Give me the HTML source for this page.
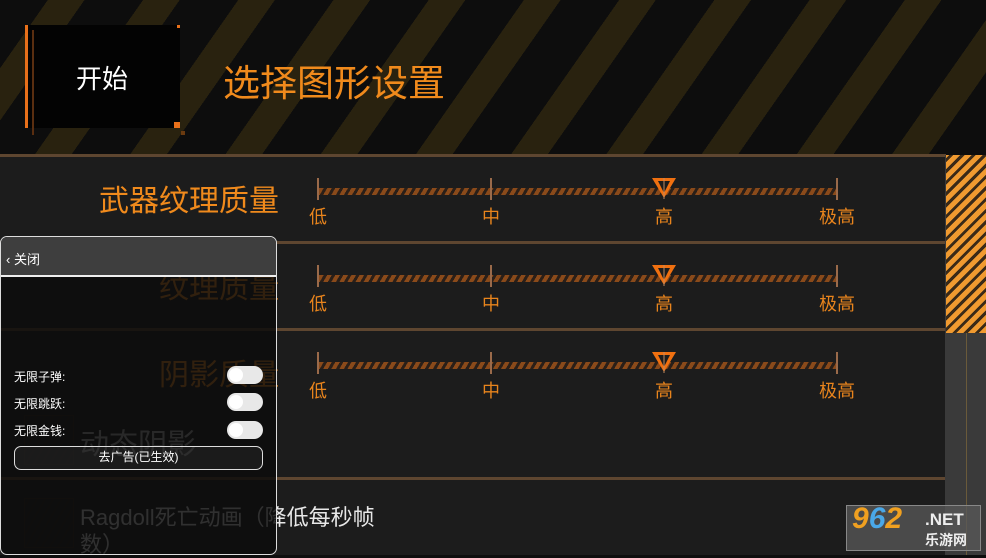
<!DOCTYPE html>
<html><head><meta charset="utf-8"><style>
*{margin:0;padding:0;box-sizing:border-box}
body{width:986px;height:555px;overflow:hidden;background:#0e0e0e;font-family:"Liberation Sans","Noto Sans CJK SC",sans-serif;position:relative}
.a{position:absolute}
.top{left:0;top:0;width:986px;height:156px;background:repeating-linear-gradient(-55deg,#0d0d0d 0 48px,#29220f 48px 78px)}
.panel{left:0;top:155px;width:946px;height:400px;background:#1c1c1c}
.sep{left:0;width:946px;height:3px;background:#5e4630}
.title{color:#f08a1c;font-size:30px;text-align:right;width:279px;left:0}
.lab{color:#e8841c;font-size:18px;width:50px;text-align:center}
.track{left:318px;width:519px;height:7px;background:repeating-linear-gradient(-60deg,#8a4a1a 0 4px,#2a1f18 4px 7px)}
.tick{width:2px;height:22px;background:#9a6a4a}
.tg{left:227px;width:36px;height:18px;border-radius:9px;background:#e8e8e8}
.tg:after{content:"";position:absolute;left:2px;top:2px;width:14px;height:14px;border-radius:7px;background:#fff}
.ol{color:#fff;font-size:12px;left:14px}
</style></head><body>
<div class="a top"></div>
<div class="a" style="left:27px;top:25px;width:153px;height:103px;background:#030303"></div>
<div class="a" style="left:25px;top:25px;width:3px;height:103px;background:#e8701a"></div>
<div class="a" style="left:32px;top:30px;width:2px;height:105px;background:#5a2e10"></div>
<div class="a" style="left:174px;top:122px;width:6px;height:6px;background:#e8701a"></div>
<div class="a" style="left:181px;top:131px;width:4px;height:4px;background:#6a3a10"></div>
<div class="a" style="left:177px;top:25px;width:3px;height:3px;background:#e8701a"></div>
<div class="a" style="left:76px;top:59px;color:#fff;font-size:26px">开始</div>
<div class="a" style="left:223px;top:53px;color:#f08a1c;font-size:37px">选择图形设置</div>

<div class="a panel"></div>
<div class="a sep" style="top:154px"></div>
<div class="a sep" style="top:241px"></div>
<div class="a sep" style="top:328px"></div>
<div class="a sep" style="top:477px"></div>
<div class="a" style="left:945px;top:155px;width:41px;height:400px;background:#3a3a3a"></div>
<div class="a" style="left:966px;top:333px;width:1px;height:222px;background:#6a5a3a"></div>
<div class="a" style="left:946px;top:155px;width:40px;height:178px;background:repeating-linear-gradient(-45deg,#f09a30 0 5px,#3a2a18 5px 8px)"></div>

<div class="a title" style="top:176px">武器纹理质量</div>
<div class="a title" style="top:263px">纹理质量</div>
<div class="a title" style="top:350px">阴影质量</div>

<div class="a track" style="top:188px"></div><div class="a track" style="top:275px"></div><div class="a track" style="top:362px"></div>
<div class="a tick" style="left:317px;top:178px"></div><div class="a tick" style="left:490px;top:178px"></div><div class="a tick" style="left:836px;top:178px"></div>
<div class="a tick" style="left:317px;top:265px"></div><div class="a tick" style="left:490px;top:265px"></div><div class="a tick" style="left:836px;top:265px"></div>
<div class="a tick" style="left:317px;top:352px"></div><div class="a tick" style="left:490px;top:352px"></div><div class="a tick" style="left:836px;top:352px"></div>
<svg class="a" style="left:650px;top:177px" width="28" height="24"><polygon points="2,1 26,1 14,21" fill="#f07010"/><polygon points="8,4 20,4 14,16" fill="#1c1c1c"/><line x1="14" y1="1" x2="14" y2="22" stroke="#c08a60" stroke-width="1"/></svg>
<svg class="a" style="left:650px;top:264px" width="28" height="24"><polygon points="2,1 26,1 14,21" fill="#f07010"/><polygon points="8,4 20,4 14,16" fill="#1c1c1c"/><line x1="14" y1="1" x2="14" y2="22" stroke="#c08a60" stroke-width="1"/></svg>
<svg class="a" style="left:650px;top:351px" width="28" height="24"><polygon points="2,1 26,1 14,21" fill="#f07010"/><polygon points="8,4 20,4 14,16" fill="#1c1c1c"/><line x1="14" y1="1" x2="14" y2="22" stroke="#c08a60" stroke-width="1"/></svg>
<div class="a lab" style="left:293px;top:203px">低</div><div class="a lab" style="left:466px;top:203px">中</div><div class="a lab" style="left:639px;top:203px">高</div><div class="a lab" style="left:812px;top:203px">极高</div>
<div class="a lab" style="left:293px;top:290px">低</div><div class="a lab" style="left:466px;top:290px">中</div><div class="a lab" style="left:639px;top:290px">高</div><div class="a lab" style="left:812px;top:290px">极高</div>
<div class="a lab" style="left:293px;top:377px">低</div><div class="a lab" style="left:466px;top:377px">中</div><div class="a lab" style="left:639px;top:377px">高</div><div class="a lab" style="left:812px;top:377px">极高</div>

<div class="a" style="left:24px;top:415px;width:50px;height:50px;border:1px solid #2e2216;background:repeating-linear-gradient(-60deg,#1c1c1c 0 5px,#241e18 5px 7px)"></div>
<div class="a" style="left:80px;top:421px;color:#bbb;font-size:29px">动态阴影</div>
<div class="a" style="left:24px;top:498px;width:50px;height:50px;border:1px solid #2e2216;background:repeating-linear-gradient(-60deg,#1c1c1c 0 5px,#241e18 5px 7px)"></div>
<div class="a" style="left:80px;top:504px;color:#e8e8e8;font-size:22px;width:315px;line-height:27px">Ragdoll死亡动画（降低每秒帧数）</div>

<div class="a" style="left:0;top:236px;width:277px;height:319px;background:rgba(12,12,12,0.84);border:1px solid #ddd;border-radius:7px;overflow:hidden">
<div class="a" style="left:0;top:0;width:277px;height:40px;background:#3e3e3e;border-bottom:2px solid #eee"></div>
<div class="a" style="left:5px;top:12px;color:#fff;font-size:13px">&lsaquo; 关闭</div>
</div>
<div class="a ol" style="top:368px">无限子弹:</div>
<div class="a ol" style="top:395px">无限跳跃:</div>
<div class="a ol" style="top:422px">无限金钱:</div>
<div class="a tg" style="top:366px"></div><div class="a tg" style="top:393px"></div><div class="a tg" style="top:421px"></div>
<div class="a" style="left:14px;top:446px;width:249px;height:24px;border:1.5px solid #ddd;border-radius:7px;color:#fff;font-size:12px;text-align:center;line-height:21px;background:rgba(60,60,60,0.3)">去广告(已生效)</div>

<div class="a" style="left:846px;top:505px;width:135px;height:46px;background:rgba(90,90,90,0.75);border:1px solid #888"></div>
<div class="a" style="left:852px;top:502px;font-size:30px;font-weight:bold;font-style:italic;color:#f0a020">9<span style="color:#4aa8e8">6</span>2</div>
<div class="a" style="left:925px;top:510px;font-size:17px;font-weight:bold;color:#eee">.NET</div>
<div class="a" style="left:925px;top:530px;font-size:14px;font-weight:bold;color:#eee">乐游网</div>
</body></html>
